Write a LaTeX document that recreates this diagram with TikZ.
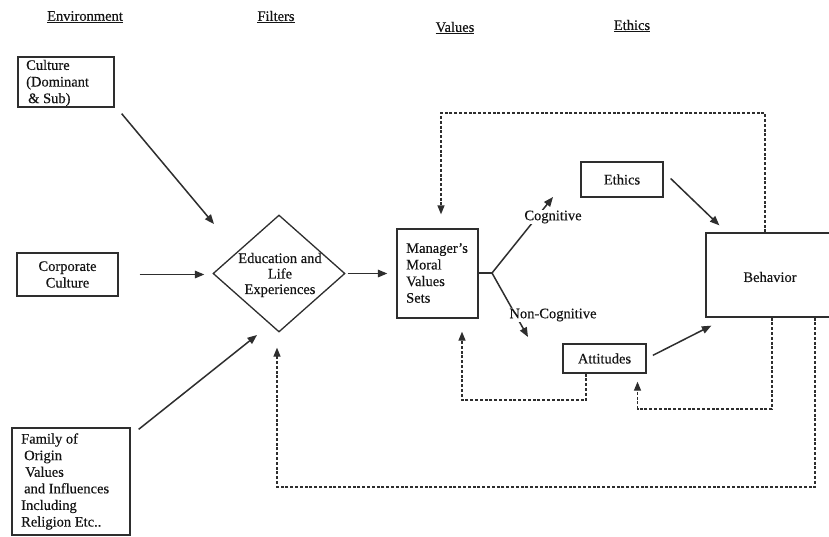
\documentclass[tikz,border=0pt]{standalone}
\usepackage{fontspec}
\setmainfont{Liberation Serif}[FakeBold=0.35]
\usetikzlibrary{shapes.geometric,arrows.meta,calc}
\definecolor{ink}{HTML}{141414}
\definecolor{wire}{HTML}{2E2E2E}
\tikzset{
  txt/.style={font=\fontsize{14.5}{16.6}\selectfont, text=ink, inner sep=0pt},
  box/.style={draw=wire, line width=1.3pt, inner sep=0pt},
  arr/.style={draw=wire, line width=1.5pt, -{Triangle[length=9.5pt,width=7.5pt]}},
  darr/.style={draw=wire, line width=1.3pt, dash pattern=on 3pt off 1.8pt, -{Triangle[length=9pt,width=7pt]}},
  lab/.style={txt, fill=white, inner sep=1pt}
}
\begin{document}
\begin{tikzpicture}[x=1pt,y=-1pt]
\fill[white] (0,0) rectangle (829,536);
\useasboundingbox (0,0) rectangle (829,536);
% headers
\node[txt] (hEnv) at (85,17) {\underline{Environment}};
\node[txt] (hFil) at (276,17) {\underline{Filters}};
\node[txt] (hVal) at (455,28) {\underline{Values}};
\node[txt] (hEth) at (632,26) {\underline{Ethics}};
% boxes
\node[box, minimum width=96pt, minimum height=50pt] (culture) at (66,82) {};
\node[txt, align=left, anchor=west] (cultureT) at (26,83) {Culture\\(Dominant\\\hspace{2pt}\& Sub)};
\node[box, txt, draw=wire, line width=1.3pt, minimum width=101pt, minimum height=43pt, align=center] (corp) at (67.5,274.5) {Corporate\\Culture};
\node[box, minimum width=118pt, minimum height=107pt] (family) at (71,481.5) {};
\node[txt, align=left, anchor=west] (familyT) at (21,481.5) {Family of\\\hspace{3pt}Origin\\\hspace{4pt}Values\\\hspace{3pt}and Influences\\Including\\Religion Etc..};
\node[draw=wire, line width=1.3pt, shape=diamond, inner sep=0pt, minimum width=132pt, minimum height=117pt] (diamond) at (279,273.5) {};
\node[txt, font=\fontsize{14.5}{15.5}\selectfont, align=center] (diamondT) at (280,275) {Education and\\Life\\Experiences};
\node[box, minimum width=81pt, minimum height=89pt] (mgr) at (437.5,273.5) {};
\node[txt, align=left, anchor=west] (mgrT) at (406,273) {Manager's\\Moral\\Values\\Sets};
\node[box, txt, draw=wire, line width=1.3pt, minimum width=82pt, minimum height=35pt] (ethics) at (622,179.5) {Ethics};
\node[box, minimum width=150pt, minimum height=84pt] (beh) at (781,275) {};
\node[txt] (behT) at (770,277) {Behavior};
\node[box, txt, draw=wire, line width=1.3pt, minimum width=83pt, minimum height=29pt] (att) at (604.5,358.5) {Attitudes};
% solid arrows
\coordinate (cultTip) at (214,224);
\draw[arr] ($(culture.south east)+(7,6)$) -- (cultTip);
\draw[arr, shorten <=21pt, shorten >=8pt] (corp.east) -- (corp.east -| diamond.west);
\coordinate (famTip) at (257,335);
\draw[arr] ($(family.north east)+(8,2)$) -- (famTip);
\draw[arr, shorten <=2pt, shorten >=9pt] (diamond.east) -- (diamond.east -| mgr.west);
% branches
\coordinate (fork) at (492,273);
\coordinate (cogTip) at (553,197);
\coordinate (ncogTip) at (528,337);
\draw[draw=wire, line width=1.4pt] (mgr.east |- fork) -- (fork);
\draw[arr] (fork) -- (cogTip);
\draw[arr] (fork) -- (ncogTip);
\node[lab] (cogL) at (553,217) {Cognitive};
\node[lab] (ncogL) at (553,315) {Non-Cognitive};
\draw[arr] ($(ethics.east)+(7,-1)$) -- ($(beh.north west)+(14,-7)$);
\draw[arr, shorten <=7pt] (att.east) -- ($(beh.south west)+(6,8)$);
% dashed feedback loops
\coordinate (fbA) at (765,113);
\draw[darr, shorten >=14pt] (fbA |- beh.north) -- (fbA) -| ($(mgr.north)+(3.5,0)$);
\coordinate (fbB) at (586,400);
\draw[darr, shorten >=13pt] (fbB |- att.south) -- (fbB) -| ($(mgr.south)+(24.5,0)$);
\coordinate (fbC) at (772,409);
\draw[darr, shorten >=8pt] (fbC |- beh.south) -- (fbC) -| ($(att.south)+(33,0)$);
\coordinate (fbD) at (815,487);
\draw[darr, shorten >=15pt] (fbD |- beh.south) -- (fbD) -| ($(diamond.south)+(-2,0)$);
\end{tikzpicture}
\end{document}
